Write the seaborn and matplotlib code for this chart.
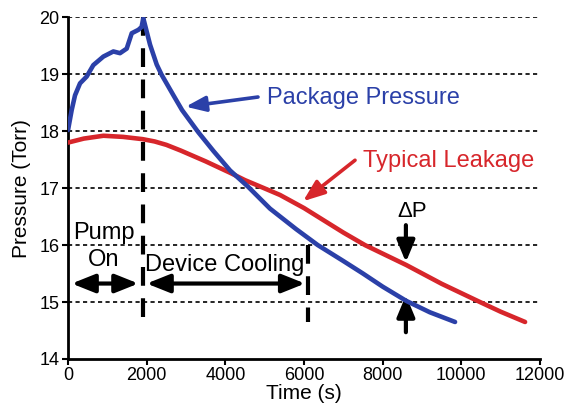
import matplotlib
matplotlib.use("Agg")
import matplotlib.pyplot as plt
import seaborn as sns

# package pressure curve (blue)
t_pkg = [0, 93, 178, 305, 475, 643, 898, 1152, 1322, 1492, 1620, 1790, 1870,
         1915, 2085, 2255, 2380, 2680, 2900, 3314, 3700, 4120, 4585, 5136,
         5800, 6350, 7000, 7500, 8000, 8600, 9200, 9840]
p_pkg = [18.02, 18.37, 18.63, 18.84, 18.96, 19.16, 19.31, 19.40, 19.37, 19.45,
         19.72, 19.78, 19.83, 19.98, 19.52, 19.17, 18.99, 18.63, 18.37, 17.98,
         17.65, 17.31, 17.02, 16.64, 16.28, 16.00, 15.72, 15.50, 15.27, 15.02,
         14.82, 14.65]

# typical leakage curve (red)
t_leak = [0, 400, 900, 1400, 1900, 2200, 2500, 2865, 3500, 4120, 4500, 5050,
          5390, 6000, 7000, 7550, 8600, 9500, 10474, 11000, 11620]
p_leak = [17.80, 17.87, 17.92, 17.90, 17.86, 17.82, 17.76, 17.66, 17.47, 17.27,
          17.14, 16.98, 16.88, 16.65, 16.22, 16.00, 15.65, 15.32, 15.00, 14.83,
          14.65]

x_ticks = [0, 2000, 4000, 6000, 8000, 10000, 12000]
y_ticks = [14, 15, 16, 17, 18, 19, 20]
phase_bounds = [1900, 6100]

blue = "#2b40a8"
red = "#d7262b"

sns.set_style("ticks")
plt.rcParams["font.family"] = ["Liberation Sans", "DejaVu Sans"]
plt.rcParams["text.color"] = "black"
plt.rcParams["axes.labelcolor"] = "black"

fig = plt.figure(figsize=(5.74, 4.03), dpi=100)
ax = fig.add_axes([0.1185, 0.1092, 0.8223, 0.8479])

# dashed horizontal grid
for yv in y_ticks[1:]:
    ax.axhline(yv, color="black", lw=1.2, ls=(0, (2.5, 2)), zorder=1)

# phase boundaries
ax.plot([phase_bounds[0]] * 2, [20, 14.68], color="black", lw=3,
        ls=(0, (4.5, 3)), zorder=2)
ax.plot([phase_bounds[1]] * 2, [16.0, 14.65], color="black", lw=3,
        ls=(0, (4.5, 3)), zorder=2)

sns.lineplot(x=t_leak, y=p_leak, ax=ax, color=red, lw=3.3, zorder=3,
             solid_joinstyle="round", solid_capstyle="round")
sns.lineplot(x=t_pkg, y=p_pkg, ax=ax, color=blue, lw=3.3, zorder=4,
             solid_joinstyle="round", solid_capstyle="round")

ax.set_xlim(0, 12000)
ax.set_ylim(14, 20)
ax.set_xticks(x_ticks)
ax.set_yticks(y_ticks)
ax.tick_params(labelsize=13, width=1.5, length=4, pad=2, color="black",
               labelcolor="black")
for side in ["top", "right"]:
    ax.spines[side].set_visible(False)
for side in ["left", "bottom"]:
    ax.spines[side].set_linewidth(2)
    ax.spines[side].set_color("black")
ax.set_xlabel("Time (s)", fontsize=15, labelpad=0, color="black")
ax.set_ylabel("Pressure (Torr)", fontsize=15, labelpad=6, color="black")

# curve labels and pointers
ax.text(5052, 18.47, "Package Pressure", color=blue, fontsize=17)
ax.annotate("", xy=(2990, 18.43), xytext=(4830, 18.6),
            arrowprops=dict(arrowstyle="-|>,head_length=1.2,head_width=0.46",
                            mutation_scale=10, lw=2.6, color=blue,
                            shrinkA=0, shrinkB=0))
ax.text(7500, 17.37, "Typical Leakage", color=red, fontsize=17)
ax.annotate("", xy=(5975, 16.77), xytext=(7297, 17.49),
            arrowprops=dict(arrowstyle="-|>,head_length=1.3,head_width=0.5",
                            mutation_scale=10, lw=2.6, color=red,
                            shrinkA=0, shrinkB=0))

# phase labels
ax.text(915, 16.10, "Pump", ha="center", fontsize=17)
ax.text(915, 15.63, "On", ha="center", fontsize=17)
ax.text(1958, 15.55, "Device Cooling", fontsize=17)
dbl = dict(arrowstyle="<|-|>,head_length=1.4,head_width=0.56",
           mutation_scale=10, lw=3, color="black", shrinkA=0, shrinkB=0)
ax.annotate("", xy=(94, 15.325), xytext=(1788, 15.325), arrowprops=dbl)
ax.annotate("", xy=(2000, 15.325), xytext=(6026, 15.325), arrowprops=dbl)

# delta P marker
ax.text(8760, 16.49, "\u0394P", ha="center", fontsize=16)
one = dict(arrowstyle="-|>,head_length=1.3,head_width=0.54",
           mutation_scale=10, lw=3, color="black", shrinkA=0, shrinkB=0)
ax.annotate("", xy=(8590, 15.70), xytext=(8590, 16.35), arrowprops=one)
ax.annotate("", xy=(8590, 15.12), xytext=(8590, 14.47), arrowprops=one)

fig.savefig("out.png", dpi=100)
